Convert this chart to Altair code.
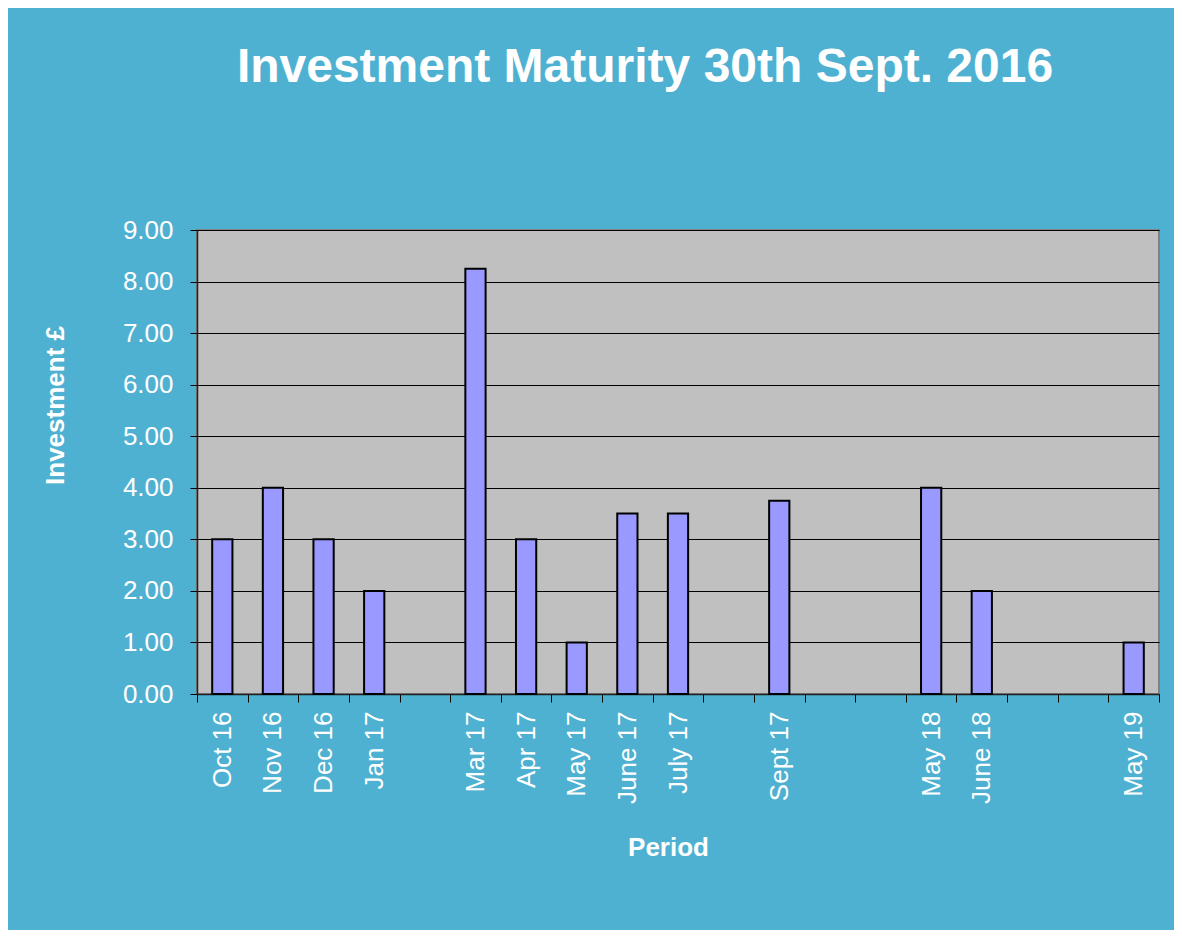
import altair as alt
import pandas as pd

categories = ["Oct 16", "Nov 16", "Dec 16", "Jan 17", " ", "Mar 17", "Apr 17",
              "May 17", "June 17", "July 17", "  ", "Sept 17", "   ", "    ",
              "May 18", "June 18", "     ", "      ", "May 19"]
bar_periods = ["Oct 16", "Nov 16", "Dec 16", "Jan 17", "Mar 17", "Apr 17", "May 17",
               "June 17", "July 17", "Sept 17", "May 18", "June 18", "May 19"]
bar_values = [3.00, 4.00, 3.00, 2.00, 8.25, 3.00, 1.00, 3.50, 3.50, 3.75, 4.00, 2.00, 1.00]
y_ticks = [0, 1, 2, 3, 4, 5, 6, 7, 8, 9]

df = pd.DataFrame({"Period": bar_periods, "Investment": bar_values})

FONT = "Liberation Sans"

chart = alt.Chart(df).mark_bar(
    fill="#9999FF", stroke="#000000", strokeWidth=2,
    width=alt.RelativeBandSize(0.4)
).encode(
    x=alt.X("Period:N",
            scale=alt.Scale(domain=categories, paddingInner=0, paddingOuter=0),
            axis=alt.Axis(title="Period", labelAngle=-90, labelColor="white",
                          labelFont=FONT, labelFontSize=26, labelPadding=9,
                          tickColor="black", tickSize=8, tickBand="extent",
                          domainColor="#222222", domainWidth=1.5,
                          titleFont=FONT, titleFontSize=26, titleFontWeight="bold",
                          titleColor="white", titleX=471, titleY=161,
                          titleBaseline="alphabetic", titleAlign="center")),
    y=alt.Y("Investment:Q",
            scale=alt.Scale(domain=[0, 9], nice=False),
            axis=alt.Axis(title="Investment £", values=y_ticks, format=".2f",
                          labelColor="white", labelFont=FONT, labelFontSize=26,
                          labelPadding=17, tickColor="black", tickSize=7,
                          domainColor="#222222", domainWidth=1.5,
                          grid=True, gridColor="black", gridOpacity=1, gridWidth=1,
                          titleFont=FONT, titleFontSize=26, titleFontWeight="bold",
                          titleColor="white", titleX=-134, titleY=175,
                          titleBaseline="alphabetic", titleAlign="center",
                          titleAngle=270))
).properties(
    width=962,
    height=464,
    autosize=alt.AutoSizeParams(type="none"),
    padding={"left": 189, "top": 222, "right": 15, "bottom": 236},
    background="#4FB1D1",
    title=alt.TitleParams("Investment Maturity 30th Sept. 2016", font=FONT,
                          fontSize=48, fontWeight="bold", color="white",
                          anchor="middle", dx=-33, offset=125)
).configure_view(
    fill="#C0C0C0", stroke="#808080", strokeWidth=2
)

chart.save("out.html", embed_options={"renderer": "svg", "actions": False})
